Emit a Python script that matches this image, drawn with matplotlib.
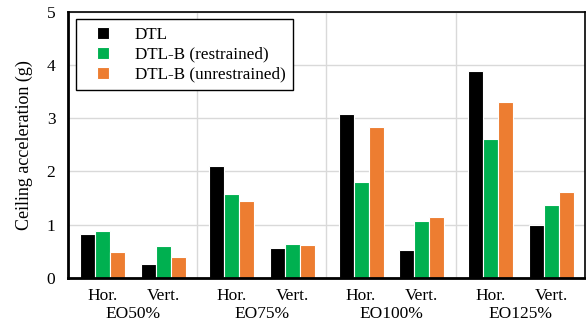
import matplotlib
matplotlib.use("Agg")
import matplotlib.pyplot as plt
import matplotlib.transforms as mtransforms
from matplotlib.patches import Rectangle
from matplotlib.container import BarContainer
from matplotlib.legend_handler import HandlerPatch, update_from_first_child
import numpy as np

plt.rcParams["font.family"] = ["Liberation Serif", "DejaVu Serif"]

groups = ["EO50%", "EO75%", "EO100%", "EO125%"]
directions = ["Hor.", "Vert."]
series = ["DTL", "DTL-B (restrained)", "DTL-B (unrestrained)"]
colors = ["#000000", "#00B050", "#ED7D31"]

# values per group: [Hor., Vert.]
dtl = [[0.83, 0.26], [2.11, 0.56], [3.09, 0.53], [3.89, 0.99]]
dtl_b_restrained = [[0.89, 0.60], [1.58, 0.64], [1.81, 1.06], [2.61, 1.37]]
dtl_b_unrestrained = [[0.49, 0.40], [1.45, 0.62], [2.84, 1.15], [3.31, 1.62]]

data = [dtl, dtl_b_restrained, dtl_b_unrestrained]

fig = plt.figure(figsize=(5.86, 3.22), dpi=100)
ax = fig.add_axes([0.116, 0.137, 0.882, 0.826])

dir_offsets = [0.268, 0.739]
bar_w = 0.116

for s, (name, col) in enumerate(zip(series, colors)):
    xs, hs = [], []
    for g in range(len(groups)):
        for d in range(len(directions)):
            xs.append(g + dir_offsets[d] + (s - 1) * bar_w)
            hs.append(data[s][g][d])
    ax.bar(xs, hs, width=bar_w, color=col, edgecolor="white", linewidth=0.8,
           label=name, zorder=3)

ax.set_xlim(0, len(groups))
ax.set_ylim(0, 5)
ax.set_yticks(range(6))

tick_pos = [g + off for g in range(len(groups)) for off in dir_offsets]
ax.set_xticks(tick_pos)
ax.set_xticklabels(directions * len(groups))
ax.set_xticks(range(1, len(groups)), minor=True)
ax.tick_params(axis="both", which="both", length=0, labelsize=12.5)
ax.tick_params(axis="x", pad=7)
ax.tick_params(axis="y", pad=9)

ax.grid(axis="y", color="#d9d9d9", linewidth=1, zorder=0)
ax.grid(axis="x", which="minor", color="#d9d9d9", linewidth=1, zorder=0)

trans = mtransforms.blended_transform_factory(ax.transData, ax.transAxes)
for g, name in enumerate(groups):
    ax.text(g + 0.5, -0.134, name, transform=trans, ha="center", va="center",
            fontsize=12.5)

for side in ["left", "bottom"]:
    ax.spines[side].set_linewidth(2.0)
for side in ["top", "right"]:
    ax.spines[side].set_linewidth(1.2)
for sp in ax.spines.values():
    sp.set_zorder(5)

ax.set_ylabel("Ceiling acceleration (g)", fontsize=13, labelpad=10)


def square_handle(legend, orig_handle, xdescent, ydescent, width, height, fontsize):
    side = 0.72 * fontsize
    return Rectangle((-xdescent + width - side, -ydescent + (height - side) / 2),
                     side, side)


leg = ax.legend(loc="upper left", bbox_to_anchor=(0.0155, 0.974), fontsize=12.3,
                fancybox=False, edgecolor="black", framealpha=1,
                borderaxespad=0, handlelength=1.5, handleheight=0.8,
                handletextpad=1.5, borderpad=0.45, labelspacing=0.2,
                handler_map={BarContainer: HandlerPatch(
                    patch_func=square_handle,
                    update_func=update_from_first_child)})
leg.get_frame().set_linewidth(1.0)

fig.savefig("out.png", dpi=100)
